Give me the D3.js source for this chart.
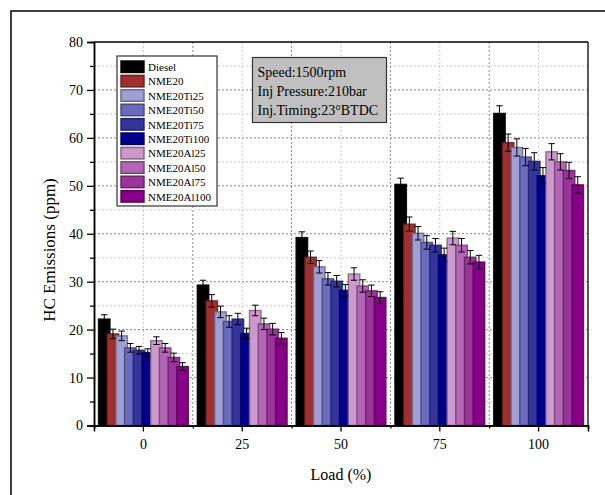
<!DOCTYPE html>
<html>
<head>
<meta charset="utf-8">
<script src="https://cdn.jsdelivr.net/npm/d3@7"></script>
<style>
  body { margin: 0; background: #fff; }
  svg { font-family: "Liberation Serif", "Times New Roman", serif; }
</style>
</head>
<body>
<svg id="chart" width="605" height="495"></svg>
<script>
// ---- data ----
const loads = ["0", "25", "50", "75", "100"];
const seriesNames = ["Diesel", "NME20", "NME20Ti25", "NME20Ti50", "NME20Ti75", "NME20Ti100",
                     "NME20Al25", "NME20Al50", "NME20Al75", "NME20Al100"];
const seriesColors = ["#000000", "#a03030", "#9f9fd6", "#6a6abf", "#34349c", "#00008b",
                      "#cc99cc", "#b565b5", "#9a339a", "#880088"];

const diesel     = [22.2, 29.3, 39.2, 50.3, 65.1];
const nme20      = [19.1, 26.0, 35.1, 42.0, 59.0];
const nme20Ti25  = [18.7, 23.7, 33.1, 40.1, 58.0];
const nme20Ti50  = [16.2, 21.7, 30.6, 38.2, 56.0];
const nme20Ti75  = [15.7, 22.2, 30.1, 37.6, 55.1];
const nme20Ti100 = [15.2, 19.2, 28.2, 35.6, 52.1];
const nme20Al25  = [17.7, 24.0, 31.6, 39.1, 57.1];
const nme20Al50  = [16.2, 21.2, 29.1, 37.6, 55.0];
const nme20Al75  = [14.2, 20.1, 28.1, 35.1, 53.2];
const nme20Al100 = [12.3, 18.2, 26.7, 34.1, 50.2];

const errDiesel     = [0.9, 1.0, 1.2, 1.3, 1.6];
const errNme20      = [1.0, 1.3, 1.3, 1.5, 1.8];
const errNme20Ti25  = [1.0, 1.2, 1.3, 1.4, 1.8];
const errNme20Ti50  = [0.9, 1.2, 1.3, 1.4, 1.8];
const errNme20Ti75  = [0.8, 1.2, 1.2, 1.4, 1.8];
const errNme20Ti100 = [0.8, 1.1, 1.2, 1.4, 1.7];
const errNme20Al25  = [0.8, 1.1, 1.3, 1.4, 1.7];
const errNme20Al50  = [0.9, 1.2, 1.3, 1.4, 1.7];
const errNme20Al75  = [0.9, 1.2, 1.2, 1.4, 1.7];
const errNme20Al100 = [0.8, 1.2, 1.2, 1.4, 1.7];

const yTicks = [0, 10, 20, 30, 40, 50, 60, 70, 80];
const infoLines = ["Speed:1500rpm", "Inj Pressure:210bar", "Inj.Timing:23\u00B0BTDC"];

const values = [diesel, nme20, nme20Ti25, nme20Ti50, nme20Ti75, nme20Ti100,
                nme20Al25, nme20Al50, nme20Al75, nme20Al100];
const errors = [errDiesel, errNme20, errNme20Ti25, errNme20Ti50, errNme20Ti75, errNme20Ti100,
                errNme20Al25, errNme20Al50, errNme20Al75, errNme20Al100];

// flat table for drawing
const table = [];
seriesNames.forEach((s, i) => loads.forEach((l, j) =>
  table.push({series: s, idx: i, load: l, value: values[i][j], err: errors[i][j]})));

// ---- layout ----
const svg = d3.select("#chart");
const plotL = 94, plotR = 588, plotT = 42, plotB = 425.5;
const barW = 11.5, step = 8.7;

const x = d3.scaleBand().domain(loads).range([plotL, plotR]).paddingInner(0).paddingOuter(0);
const xEdge = d3.scaleLinear().domain([0, loads.length]).range([plotL, plotR]);
const inner = d3.scalePoint().domain(seriesNames).range([-4.5 * step, 4.5 * step]);
const y = d3.scaleLinear().domain([0, 80]).range([plotB, plotT]);
const color = d3.scaleOrdinal().domain(seriesNames).range(seriesColors);

const cx = d => x(d.load) + x.bandwidth() / 2 + inner(d.series);

// outer frame
svg.append("rect").attr("x", 11).attr("y", 11).attr("width", 640).attr("height", 540)
  .attr("fill", "none").attr("stroke", "#000").attr("stroke-width", 1.5);

// grid
const grid = svg.append("g");
d3.range(5, 80, 5).forEach(v => {
  grid.append("line").attr("x1", plotL).attr("x2", plotR).attr("y1", y(v)).attr("y2", y(v))
    .attr("stroke", v % 10 === 0 ? "#8a8a8a" : "#c8c8c8").attr("stroke-dasharray", "2,2");
});
loads.forEach(l => {
  const gx = x(l) + x.bandwidth() / 2;
  grid.append("line").attr("x1", gx).attr("x2", gx).attr("y1", plotT).attr("y2", plotB)
    .attr("stroke", "#c8c8c8").attr("stroke-dasharray", "2,2");
});
d3.range(1, loads.length).forEach(k => {
  grid.append("line").attr("x1", xEdge(k)).attr("x2", xEdge(k)).attr("y1", plotT).attr("y2", plotB)
    .attr("stroke", "#8a8a8a").attr("stroke-dasharray", "2,2");
});

// bars
svg.append("g").selectAll("rect").data(table).join("rect")
  .attr("x", d => cx(d) - barW / 2)
  .attr("y", d => y(d.value))
  .attr("width", barW)
  .attr("height", d => y(0) - y(d.value))
  .attr("fill", d => color(d.series))
  .attr("stroke", d => d3.color(color(d.series)).darker(1.3).formatHex())
  .attr("stroke-opacity", 0.85)
  .attr("stroke-width", 1.4);

// error bars
const eb = svg.append("g").attr("stroke", "#000").attr("stroke-width", 1);
table.forEach(d => {
  const xc = cx(d), cap = 3.2;
  eb.append("line").attr("x1", xc).attr("x2", xc).attr("y1", y(d.value - d.err)).attr("y2", y(d.value + d.err));
  eb.append("line").attr("x1", xc - cap).attr("x2", xc + cap).attr("y1", y(d.value + d.err)).attr("y2", y(d.value + d.err));
  eb.append("line").attr("x1", xc - cap).attr("x2", xc + cap).attr("y1", y(d.value - d.err)).attr("y2", y(d.value - d.err));
});

// axes
const fontTick = "14px";
const xAxis = svg.append("g").attr("transform", `translate(0,${plotB})`)
  .call(d3.axisBottom(x).tickSize(6).tickPadding(8));
const xMinor = svg.append("g").attr("transform", `translate(0,${plotB})`)
  .call(d3.axisBottom(xEdge).tickValues(d3.range(0, loads.length + 1)).tickSize(3).tickFormat(""));
const yAxis = svg.append("g").attr("transform", `translate(${plotL},0)`)
  .call(d3.axisLeft(y).tickValues(yTicks).tickSize(7).tickPadding(4));
const yMinor = svg.append("g").attr("transform", `translate(${plotL},0)`)
  .call(d3.axisLeft(y).tickValues(d3.range(5, 80, 10)).tickSize(4).tickFormat(""));
[xAxis, xMinor, yAxis, yMinor].forEach(g => {
  g.selectAll(".domain").attr("stroke", "#000").attr("stroke-width", 1.5);
  g.selectAll(".tick line").attr("stroke", "#000").attr("stroke-width", 1.3);
  g.selectAll("text").attr("font-family", "Liberation Serif, Times New Roman, serif")
    .attr("font-size", fontTick).attr("fill", "#000");
});

// top and right border
svg.append("line").attr("x1", plotL).attr("x2", plotR).attr("y1", plotT).attr("y2", plotT)
  .attr("stroke", "#000").attr("stroke-width", 1.3);
svg.append("line").attr("x1", plotR).attr("x2", plotR).attr("y1", plotT).attr("y2", plotB)
  .attr("stroke", "#000").attr("stroke-width", 1.3);

// axis titles
svg.append("text").attr("x", (plotL + plotR) / 2).attr("y", 480).attr("text-anchor", "middle")
  .attr("font-size", "16px").text("Load (%)");
svg.append("text").attr("transform", "translate(55,250) rotate(-90)")
  .attr("text-anchor", "middle").attr("font-size", "17px").text("HC Emissions (ppm)");

// legend
const lg = svg.append("g").attr("transform", "translate(117,56)");
lg.append("rect").attr("width", 100).attr("height", 150).attr("fill", "#fff")
  .attr("stroke", "#333").attr("stroke-width", 1.2);
seriesNames.forEach((s, i) => {
  const row = lg.append("g").attr("transform", `translate(4,${5 + i * 14.4})`);
  row.append("rect").attr("width", 23).attr("height", 11.5)
    .attr("fill", color(s))
    .attr("stroke", d3.color(color(s)).darker(1.3).formatHex()).attr("stroke-width", 1.4);
  row.append("text").attr("x", 27).attr("y", 10).attr("font-size", "11px").text(s);
});

// info box
const ib = svg.append("g").attr("transform", "translate(252.5,57.5)");
ib.append("rect").attr("width", 134).attr("height", 65).attr("fill", "#c0c0c0")
  .attr("stroke", "#333").attr("stroke-width", 1.2);
infoLines.forEach((t, i) => {
  ib.append("text").attr("x", 5).attr("y", 19 + i * 19.2).attr("font-size", "14px").text(t);
});
</script>
</body>
</html>
